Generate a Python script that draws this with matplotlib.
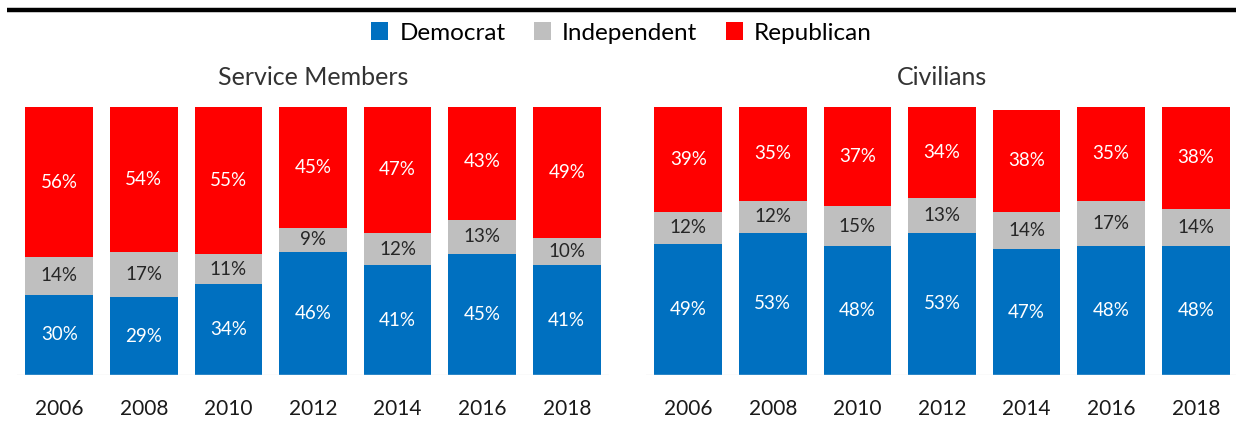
import matplotlib
matplotlib.use("Agg")
import matplotlib.pyplot as plt
from matplotlib.patches import Patch
from matplotlib.lines import Line2D

# ── Data: party identification share (%) by survey year ──
years = ["2006", "2008", "2010", "2012", "2014", "2016", "2018"]

service_dem = [30, 29, 34, 46, 41, 45, 41]
service_ind = [14, 17, 11, 9, 12, 13, 10]
service_rep = [56, 54, 55, 45, 47, 43, 49]

civil_dem = [49, 53, 48, 53, 47, 48, 48]
civil_ind = [12, 12, 15, 13, 14, 17, 14]
civil_rep = [39, 35, 37, 34, 38, 35, 38]

parties = ["Democrat", "Independent", "Republican"]
colors = ["#0070C0", "#BFBFBF", "#FF0000"]
text_colors = ["white", "#262626", "white"]

plt.rcParams["font.family"] = ["Lato", "DejaVu Sans"]

W, H = 1236, 424
fig = plt.figure(figsize=(W / 100, H / 100), dpi=100)

# heavy rule across the top
fig.add_artist(Line2D([7 / W, 1.0], [1 - 10 / H, 1 - 10 / H],
                      color="black", linewidth=3.2, solid_capstyle="butt"))


def stacked_panel(rect, title, series):
    ax = fig.add_axes(rect)
    x = range(len(years))
    bottom = [0] * len(years)
    for vals, col, tcol in zip(series, colors, text_colors):
        ax.bar(x, vals, bottom=bottom, width=0.8, color=col, linewidth=0)
        for i, v in enumerate(vals):
            ax.text(i, bottom[i] + v / 2, f"{v}%", ha="center", va="center",
                    fontsize=13.5, color=tcol)
        bottom = [b + v for b, v in zip(bottom, vals)]
    ax.axhline(0, color="#E8E8E8", linewidth=1)
    ax.set_xlim(-0.5, len(years) - 0.5)
    ax.set_ylim(0, 100)
    ax.set_xticks(list(x))
    ax.set_xticklabels(years, fontsize=15, color="#1a1a1a")
    ax.tick_params(axis="x", length=0, pad=17)
    ax.set_yticks([])
    for s in ax.spines.values():
        s.set_visible(False)
    ax.set_title(title, fontsize=18, color="#333333", pad=16)
    return ax


bar_top, bar_bot = 107, 375
ax_h = (bar_bot - bar_top) / H
ax_y = 1 - bar_bot / H
stacked_panel([17 / W, ax_y, 592 / W, ax_h], "Service Members",
              [service_dem, service_ind, service_rep])
stacked_panel([646 / W, ax_y, 592 / W, ax_h], "Civilians",
              [civil_dem, civil_ind, civil_rep])

handles = [Patch(facecolor=c, edgecolor="none") for c in colors]
fig.legend(handles, parties, loc="center", bbox_to_anchor=(0.503, 1 - 33 / H),
           ncol=3, frameon=False, fontsize=17.5, handlelength=0.7,
           handleheight=0.7, handletextpad=0.45, columnspacing=1.18,
           borderpad=0)

fig.savefig("out.png", dpi=100)
